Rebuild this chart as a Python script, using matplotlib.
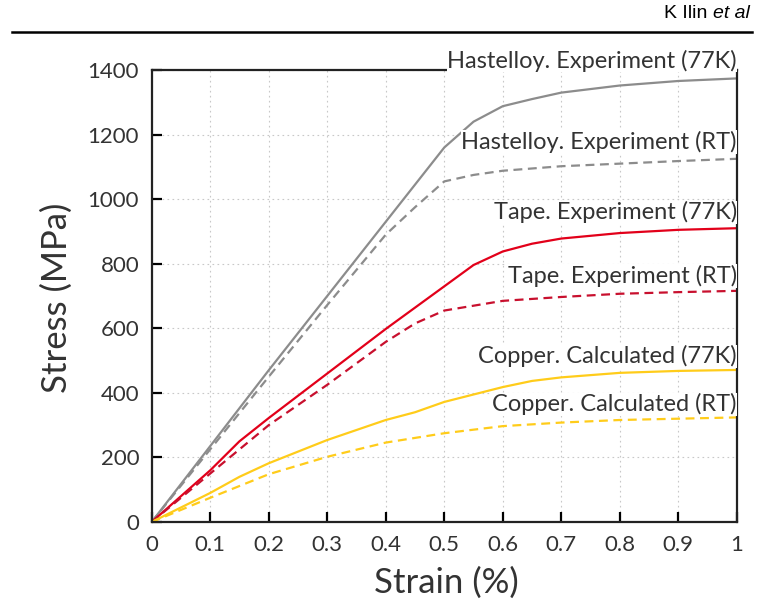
import matplotlib
matplotlib.use('Agg')
import matplotlib.pyplot as plt
from matplotlib.transforms import offset_copy

# 应变 (%) 与应力 (MPa)
hast_77k_x = [0, 0.1, 0.2, 0.3, 0.4, 0.45, 0.5, 0.55, 0.6, 0.65, 0.7, 0.8, 0.9, 1.0]
hast_77k_y = [0, 235, 470, 700, 930, 1045, 1160, 1240, 1288, 1310, 1330, 1352, 1366, 1374]

hast_rt_x = [0, 0.1, 0.2, 0.3, 0.4, 0.45, 0.5, 0.55, 0.6, 0.7, 0.8, 0.9, 1.0]
hast_rt_y = [0, 225, 450, 672, 890, 975, 1055, 1075, 1088, 1102, 1110, 1118, 1125]

tape_77k_x = [0, 0.1, 0.15, 0.2, 0.3, 0.4, 0.5, 0.55, 0.6, 0.65, 0.7, 0.8, 0.9, 1.0]
tape_77k_y = [0, 160, 250, 322, 460, 598, 730, 796, 838, 862, 878, 895, 905, 910]

tape_rt_x = [0, 0.1, 0.2, 0.3, 0.4, 0.45, 0.5, 0.55, 0.6, 0.7, 0.8, 0.9, 1.0]
tape_rt_y = [0, 150, 300, 425, 558, 615, 655, 670, 685, 697, 707, 712, 716]

cu_77k_x = [0, 0.1, 0.15, 0.2, 0.3, 0.4, 0.45, 0.5, 0.55, 0.6, 0.65, 0.7, 0.8, 0.9, 1.0]
cu_77k_y = [0, 90, 140, 182, 254, 316, 340, 372, 395, 418, 437, 448, 462, 468, 471]

cu_rt_x = [0, 0.1, 0.2, 0.3, 0.4, 0.5, 0.6, 0.7, 0.8, 0.9, 1.0]
cu_rt_y = [0, 75, 148, 202, 246, 275, 297, 308, 316, 320, 324]

labels = ['Hastelloy. Experiment (77K)', 'Hastelloy. Experiment (RT)',
          'Tape. Experiment (77K)', 'Tape. Experiment (RT)',
          'Copper. Calculated (77K)', 'Copper. Calculated (RT)']
label_y = [1428, 1177, 960, 762, 514, 365]

x_ticks = [0, 0.1, 0.2, 0.3, 0.4, 0.5, 0.6, 0.7, 0.8, 0.9, 1]
x_ticklabels = ['0', '0.1', '0.2', '0.3', '0.4', '0.5', '0.6', '0.7', '0.8', '0.9', '1']
y_ticks = [0, 200, 400, 600, 800, 1000, 1200, 1400]

GRAY = '#8c8c8c'
RED = '#e2001a'
RED_D = '#c8102e'
YEL = '#ffcc1a'
TXT = '#333333'

plt.rcParams['font.family'] = ['Lato', 'DejaVu Sans']

fig = plt.figure(figsize=(7.66, 6.03), dpi=100)
ax = fig.add_axes([0.198, 0.1343, 0.764, 0.7496])

lw = 1.6
dash = (0, (4, 2.5))
ax.plot(hast_77k_x, hast_77k_y, color=GRAY, lw=lw)
ax.plot(hast_rt_x, hast_rt_y, color=GRAY, lw=lw, ls=dash)
ax.plot(tape_77k_x, tape_77k_y, color=RED, lw=lw)
ax.plot(tape_rt_x, tape_rt_y, color=RED_D, lw=lw, ls=dash)
ax.plot(cu_77k_x, cu_77k_y, color=YEL, lw=lw)
ax.plot(cu_rt_x, cu_rt_y, color=YEL, lw=lw, ls=dash)

for txt, yy in zip(labels, label_y):
    ax.text(1.0, yy, txt, ha='right', va='center', fontsize=17, color=TXT,
            clip_on=False, zorder=5,
            bbox=dict(facecolor='white', edgecolor='none', pad=0.3))

ax.set_xlim(0, 1)
ax.set_ylim(0, 1400)
ax.set_xticks(x_ticks)
ax.set_xticklabels(x_ticklabels)
ax.set_yticks(y_ticks)
ax.grid(True, color='#c8c8c8', ls=(0, (1.5, 3)), lw=0.8)
ax.set_axisbelow(True)

for s in ax.spines.values():
    s.set_linewidth(1.6)
    s.set_color('#222222')

ax.tick_params(direction='in', length=7, width=1.6, labelsize=16,
               labelcolor=TXT, pad=9)
ax.set_xlabel('Strain (%)', fontsize=25, color=TXT)
ax.set_ylabel('Stress (MPa)', fontsize=25, color=TXT)
ax.xaxis.set_label_coords(0.503, -0.135)
ax.xaxis.label.set_va('center')
ax.yaxis.set_label_coords(-0.162, 0.497)
ax.yaxis.label.set_va('center')

# 页眉
t_et = fig.text(0.979, 0.977, 'et al', ha='right', va='center', fontsize=14,
                family='Liberation Sans', style='italic', color='black')
fig.canvas.draw()
w = t_et.get_window_extent().width
fig.text(0.979, 0.977, 'K Ilin ', ha='right', va='center', fontsize=14,
         family='Liberation Sans', color='black',
         transform=offset_copy(fig.transFigure, fig=fig, x=-w, y=0, units='dots'))
fig.add_artist(plt.Line2D([0.016, 0.982], [0.947, 0.947], color='black', lw=1.8))

plt.savefig('out.png', dpi=100)
